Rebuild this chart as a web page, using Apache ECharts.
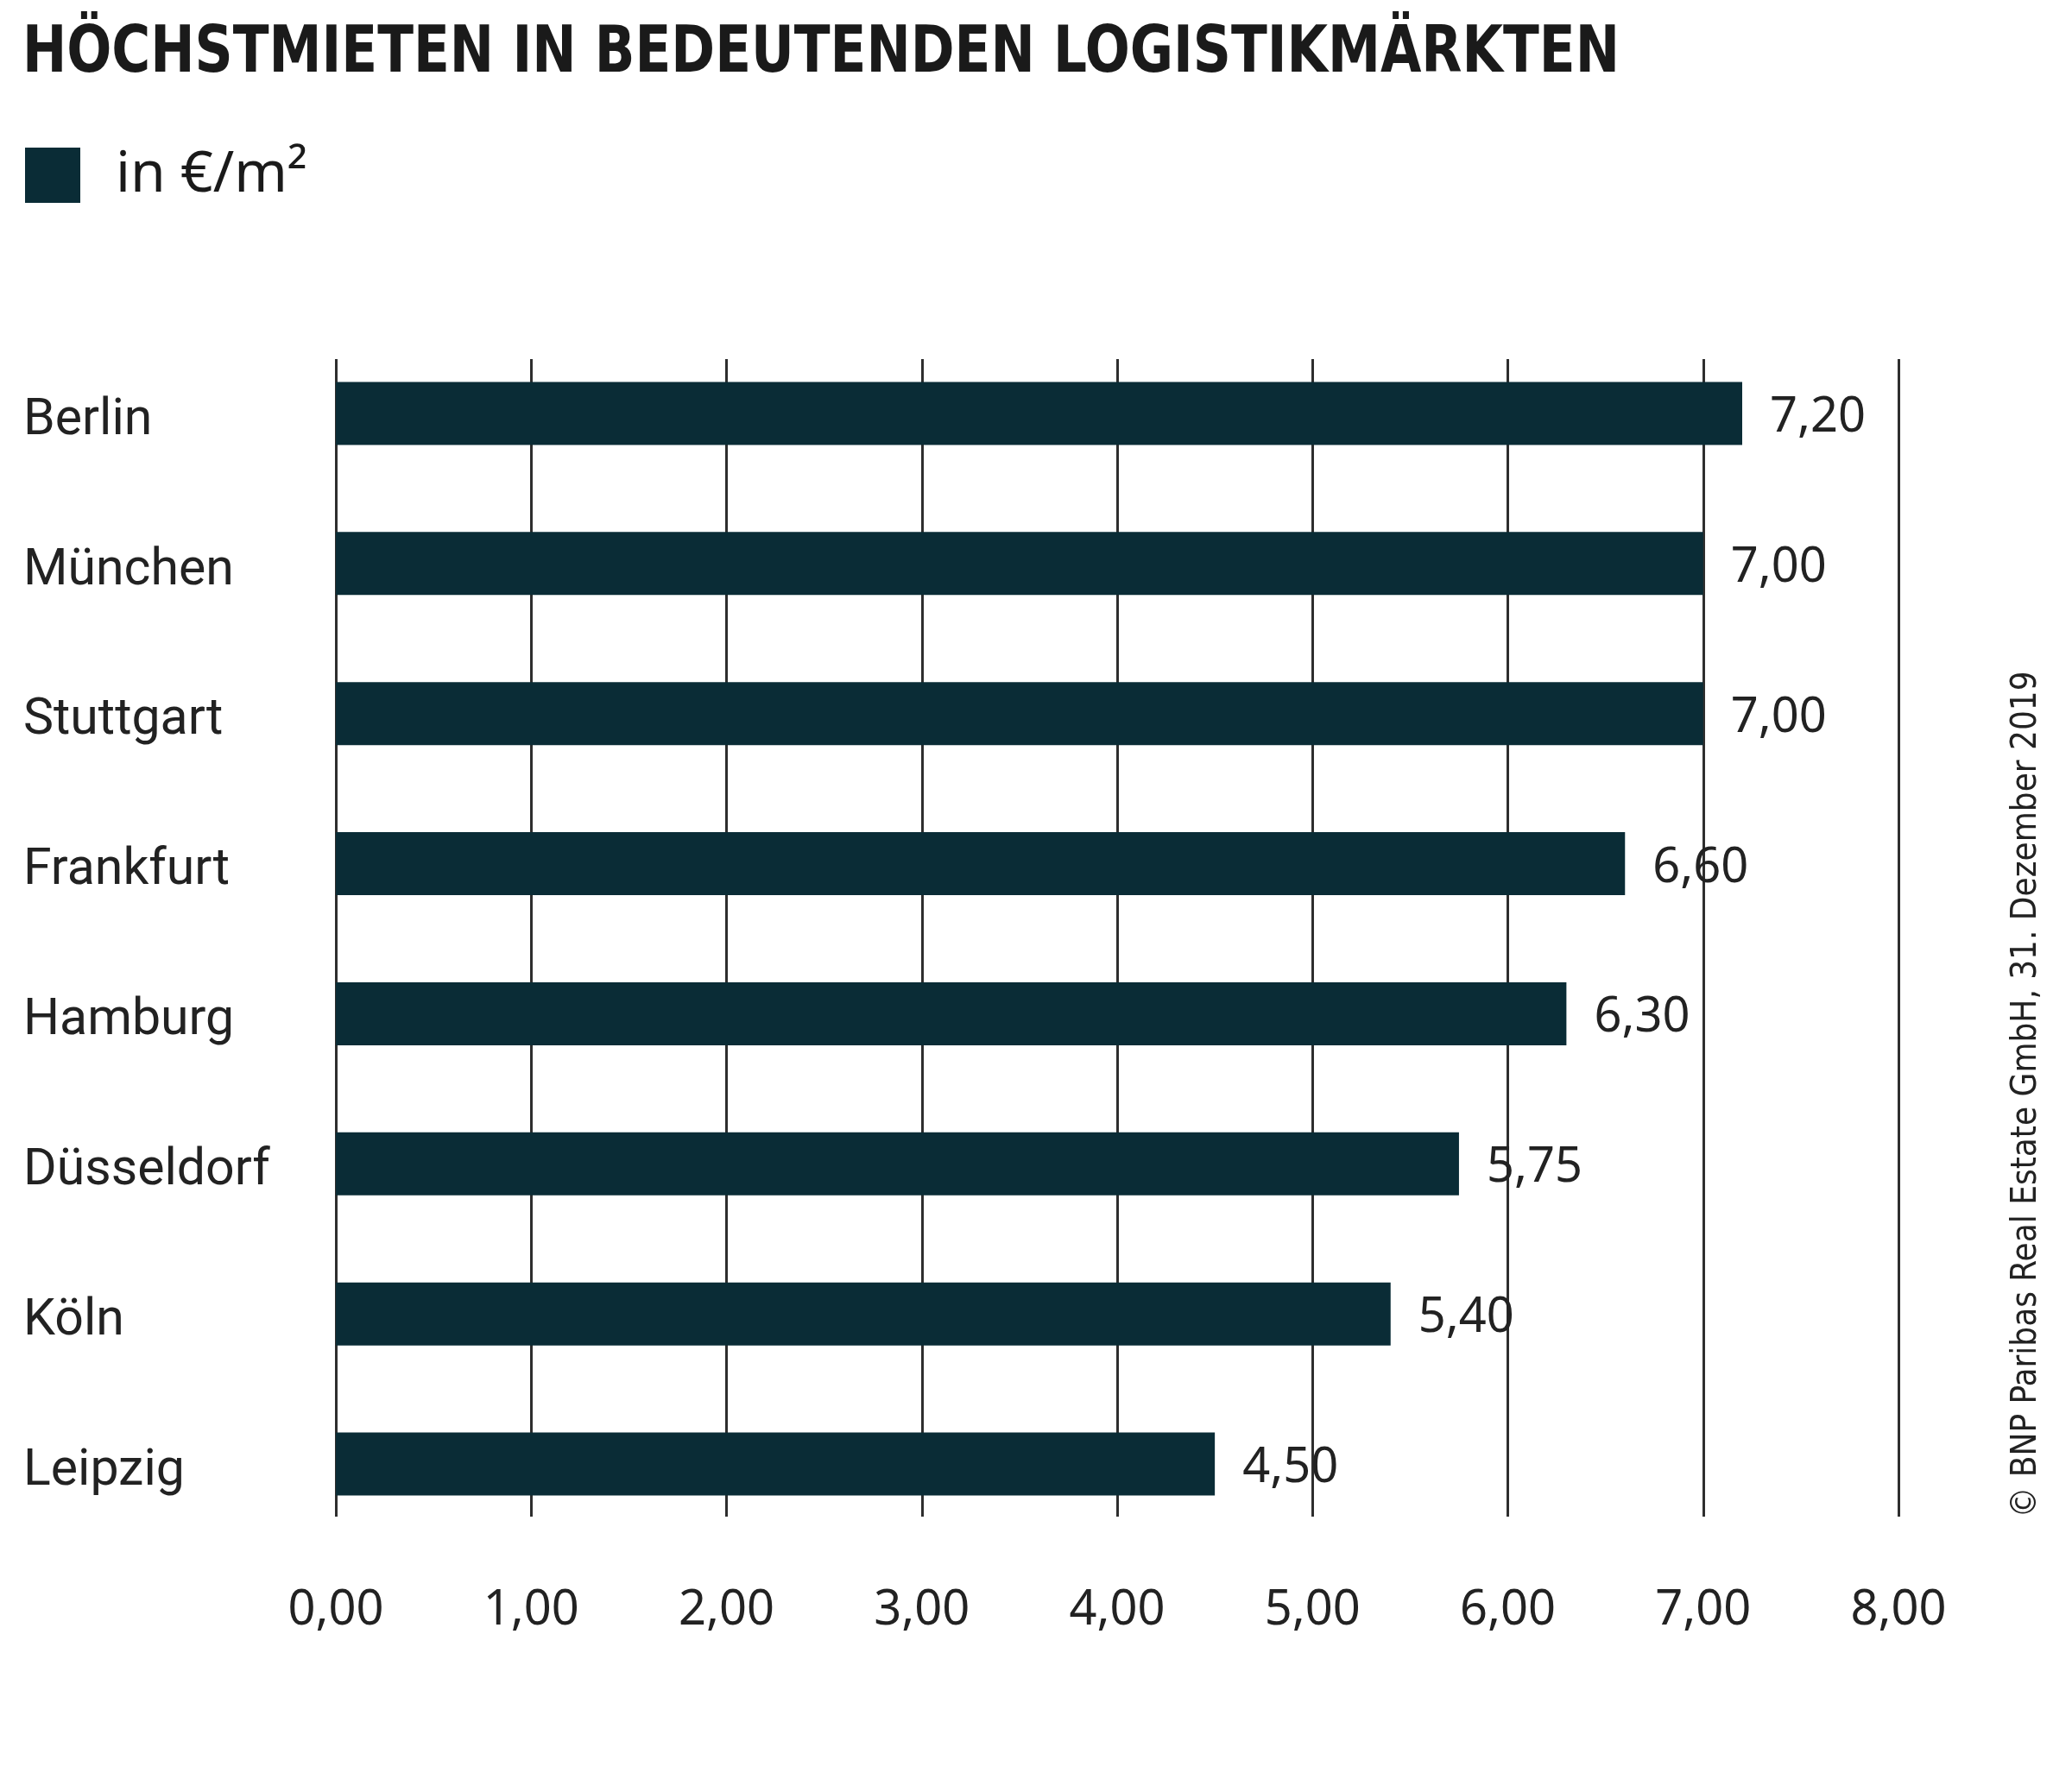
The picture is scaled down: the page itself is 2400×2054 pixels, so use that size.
<!DOCTYPE html>
<html>
<head>
<meta charset="utf-8">
<script src="https://cdn.jsdelivr.net/npm/echarts@6/dist/echarts.min.js"></script>
<style>
html,body{margin:0;padding:0;background:#fff;}
#chart{width:2400px;height:2054px;}
</style>
</head>
<body>
<div id="chart"></div>
<script>
const categories = ['Berlin','München','Stuttgart','Frankfurt','Hamburg','Düsseldorf','Köln','Leipzig'];
const values = [7.20, 7.00, 7.00, 6.60, 6.30, 5.75, 5.40, 4.50];
const seriesName = 'in €/m²';
const titleText = 'HÖCHSTMIETEN IN BEDEUTENDEN LOGISTIKMÄRKTEN';
const sourceText = '© BNP Paribas Real Estate GmbH, 31. Dezember 2019';

const fmt = v => Number(v).toFixed(2).replace('.', ',');
const BAR = '#0a2c36';
const FONT = '"Noto Sans", sans-serif';

const chart = echarts.init(document.getElementById('chart'));
chart.setOption({
  backgroundColor: '#fff',
  animation: false,
  legend: {
    data: [seriesName],
    left: 24, top: 165,
    icon: 'rect', itemWidth: 64, itemHeight: 64, itemGap: 20,
    textStyle: {fontFamily: FONT, fontSize: 66, color: '#1a1a1a', padding: [0,0,0,36]}
  },
  grid: [
    {left: 389, right: 201, top: 392, height: 1391},
    {left: 389, right: 201, top: 416, height: 1341}
  ],
  xAxis: [
    {gridIndex: 0, type: 'value', min: 0, max: 8, interval: 1, show: false},
    {gridIndex: 1, type: 'value', min: 0, max: 8, interval: 1,
     axisLine: {show: false}, axisTick: {show: false},
     splitLine: {show: true, lineStyle: {color: '#2e2e2e', width: 3}},
     axisLabel: {formatter: fmt, margin: 81, fontFamily: FONT, fontSize: 56, color: '#222'}}
  ],
  yAxis: [
    {gridIndex: 0, type: 'category', data: categories, inverse: true,
     axisLine: {show: false}, axisTick: {show: false}, splitLine: {show: false},
     axisLabel: {align: 'left', margin: 362, formatter: v => '{c|' + v + '}',
       rich: {c: {padding: [18,0,0,0], fontFamily: 'Roboto, sans-serif', fontSize: 59, color: '#222'}}}},
    {gridIndex: 1, type: 'category', data: categories, show: false}
  ],
  series: [{
    name: seriesName, type: 'bar', xAxisIndex: 0, yAxisIndex: 0,
    data: values, barWidth: 73, z: 5,
    itemStyle: {color: BAR},
    label: {show: true, position: 'right', distance: 32, formatter: p => '{v|' + fmt(p.value) + '}',
            rich: {v: {padding: [10,0,0,0], fontFamily: FONT, fontSize: 56, color: '#222'}}}
  }],
  graphic: [{
    type: 'text', x: 26, y: 26, scaleX: 0.908,
    style: {text: titleText, fontFamily: '"DejaVu Sans Condensed", "DejaVu Sans", sans-serif', fontWeight: 'bold',
            fontSize: 75, fill: '#1a1a1a', align: 'left', verticalAlign: 'top'}
  }, {
    type: 'text', x: 2348, y: 1268, rotation: Math.PI / 2,
    style: {text: sourceText, fontFamily: '"DejaVu Sans Condensed", sans-serif', fontSize: 40, fill: '#222',
            align: 'center', verticalAlign: 'middle'}
  }]
});
</script>
</body>
</html>
